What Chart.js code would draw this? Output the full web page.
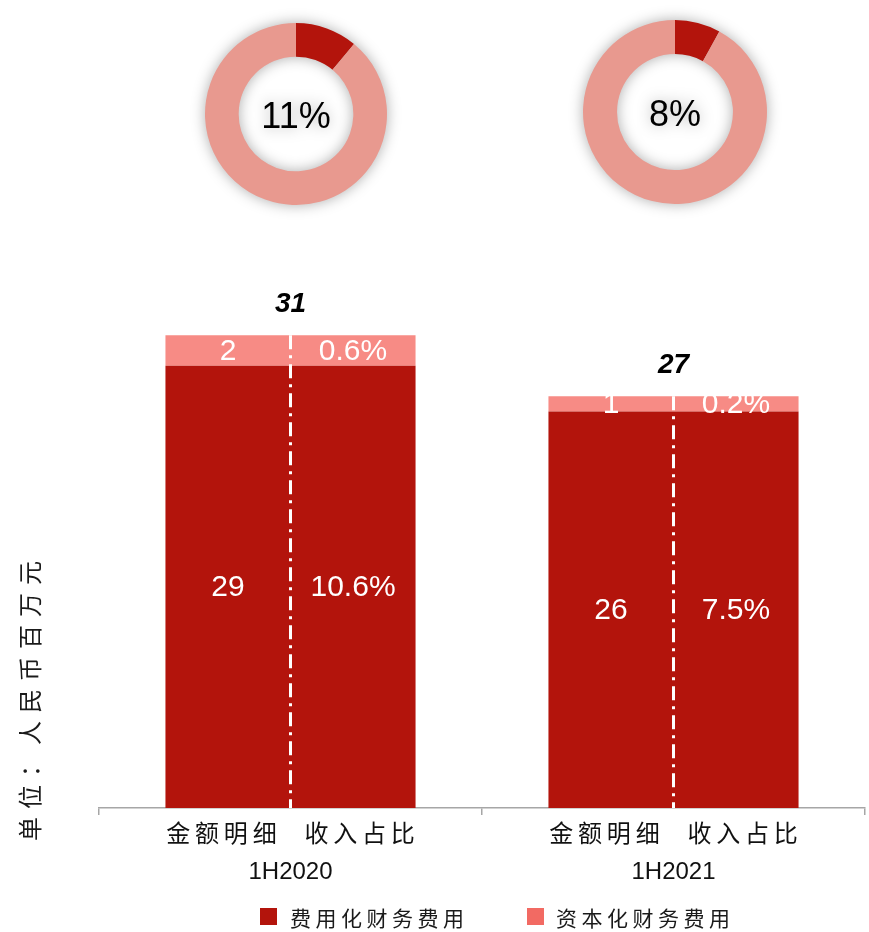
<!DOCTYPE html>
<html>
<head>
<meta charset="utf-8">
<script src="https://cdn.jsdelivr.net/npm/chart.js@4.4.1/dist/chart.umd.min.js"></script>
<style>
  body { margin: 0; background: #fff; }
  #page { position: relative; width: 869px; height: 932px; overflow: hidden; }
  .box { position: absolute; }
  .ring { filter: drop-shadow(0 0 7px rgba(0, 0, 0, 0.32)); }
  #legend { position: absolute; left: 0; top: 905px; width: 869px; height: 24px;
            font: 21px "Noto Sans CJK SC", sans-serif; color: #1a1a1a; letter-spacing: 4.5px; }
  #legend span { position: absolute; top: 0; line-height: 24px; white-space: nowrap; }
  #legend i { position: absolute; top: 3px; width: 17px; height: 17px; }
</style>
</head>
<body>
<div id="page">
  <div class="box" style="left:0;top:0;width:869px;height:905px"><canvas id="barChart"></canvas></div>
  <div class="box ring" style="left:196px;top:14px;width:200px;height:200px"><canvas id="ring2020"></canvas></div>
  <div class="box ring" style="left:575px;top:12px;width:200px;height:200px"><canvas id="ring2021"></canvas></div>
  <div id="legend"></div>
</div>
<script>
// 财务费用：费用化 / 资本化（人民币百万元）
const categories = ['1H2020', '1H2021'];
const columnHeads = '金额明细  收入占比';
const seriesNames = ['费用化财务费用', '资本化财务费用'];
const expensed = [29, 26];
const capitalised = [2, 1];
const expensedShare = [10.6, 7.5];
const capitalisedShare = [0.6, 0.2];
const totals = [31, 27];
const ringShare = [11, 8];

const DARK = '#B3140C';
const LIGHT = '#F78B85';
const RING_LIGHT = '#E8998F';
const legendColors = [DARK, '#F26A63'];
const LATIN = '"Liberation Sans", Arial, "Noto Sans CJK SC", sans-serif';

Chart.defaults.animation = false;
Chart.defaults.plugins.tooltip.enabled = false;
Chart.defaults.events = [];

// spread CJK characters a little, like the slide text
const spaced = (s) => s.split('').join('\u2009');

// white dash-dot divider down the middle of each stack
const dividerPlugin = {
  id: 'divider',
  afterDatasetsDraw(chart) {
    const ctx = chart.ctx;
    const bottom = chart.getDatasetMeta(0).data;
    const top = chart.getDatasetMeta(1).data;
    ctx.save();
    ctx.strokeStyle = '#fff';
    ctx.lineWidth = 3;
    ctx.setLineDash([14, 6, 3, 6]);
    bottom.forEach((bar, i) => {
      ctx.beginPath();
      ctx.moveTo(bar.x, top[i].y);
      ctx.lineTo(bar.x, bar.base);
      ctx.stroke();
    });
    ctx.restore();
  }
};

// amounts on the left half, share of revenue on the right half, totals on top
const segmentLabels = {
  id: 'segmentLabels',
  afterDraw(chart) {
    const ctx = chart.ctx;
    const shares = [expensedShare, capitalisedShare];
    ctx.save();
    ctx.textAlign = 'center';
    ctx.textBaseline = 'middle';
    chart.data.datasets.forEach((ds, d) => {
      chart.getDatasetMeta(d).data.forEach((bar, i) => {
        const y = (bar.y + bar.base) / 2;
        ctx.fillStyle = '#fff';
        ctx.font = '30px ' + LATIN;
        ctx.fillText(ds.data[i], bar.x - bar.width / 4, y + 1);
        ctx.fillText(shares[d][i].toFixed(1) + '%', bar.x + bar.width / 4, y + 1);
      });
    });
    chart.getDatasetMeta(1).data.forEach((bar, i) => {
      ctx.fillStyle = '#000';
      ctx.font = 'italic bold 28px ' + LATIN;
      ctx.fillText(totals[i], bar.x, bar.y - 31);
    });

    // unit caption along the left edge
    ctx.translate(30, 697);
    ctx.rotate(-Math.PI / 2);
    ctx.fillStyle = '#1a1a1a';
    ctx.font = '24px "Noto Sans CJK SC", sans-serif';
    ctx.letterSpacing = '8px';
    ctx.fillText('单位：人民币百万元', 0, 0);
    ctx.restore();
  }
};

new Chart(document.getElementById('barChart'), {
  type: 'bar',
  data: {
    labels: categories.map(c => [spaced(columnHeads), c]),
    datasets: [
      { label: seriesNames[0], data: expensed, backgroundColor: DARK },
      { label: seriesNames[1], data: capitalised, backgroundColor: LIGHT }
    ]
  },
  options: {
    responsive: true,
    maintainAspectRatio: false,
    layout: { padding: { top: 289.5, left: 99, right: 4, bottom: 12 } },
    datasets: { bar: { categoryPercentage: 1, barPercentage: 0.653 } },
    plugins: { legend: { display: false } },
    scales: {
      x: {
        stacked: true,
        grid: { drawOnChartArea: false, tickLength: 7, color: '#A6A6A6', lineWidth: 1.5 },
        border: { color: '#A6A6A6', width: 1.5 },
        ticks: {
          color: '#111',
          padding: 2,
          font: { family: LATIN, size: 24, lineHeight: 1.54 }
        }
      },
      y: { stacked: true, display: false, min: 0, max: 34 }
    }
  },
  plugins: [dividerPlugin, segmentLabels]
});

// share of capitalised interest, one ring per half-year
const ringText = {
  id: 'ringText',
  afterDraw(chart) {
    const arc = chart.getDatasetMeta(0).data[0];
    const ctx = chart.ctx;
    ctx.save();
    ctx.fillStyle = '#000';
    ctx.font = '36px ' + LATIN;
    ctx.textAlign = 'center';
    ctx.textBaseline = 'middle';
    ctx.fillText(chart.data.datasets[0].data[0] + '%', arc.x, arc.y + 4);
    ctx.restore();
  }
};

[['ring2020', 9], ['ring2021', 8]].forEach(([id, pad], i) => {
  new Chart(document.getElementById(id), {
    type: 'doughnut',
    data: {
      datasets: [{
        data: [ringShare[i], 100 - ringShare[i]],
        backgroundColor: [DARK, RING_LIGHT],
        borderWidth: 0
      }]
    },
    options: {
      responsive: true,
      maintainAspectRatio: false,
      cutout: '63%',
      layout: { padding: pad },
      plugins: { legend: { display: false } }
    },
    plugins: [ringText]
  });
});

// legend row under the axis
const legendBox = document.getElementById('legend');
const legendX = [[260, 290], [527, 556]];
seriesNames.forEach((name, i) => {
  const sw = document.createElement('i');
  sw.style.left = legendX[i][0] + 'px';
  sw.style.background = legendColors[i];
  const tx = document.createElement('span');
  tx.style.left = legendX[i][1] + 'px';
  tx.textContent = name;
  legendBox.appendChild(sw);
  legendBox.appendChild(tx);
});
</script>
</body>
</html>
